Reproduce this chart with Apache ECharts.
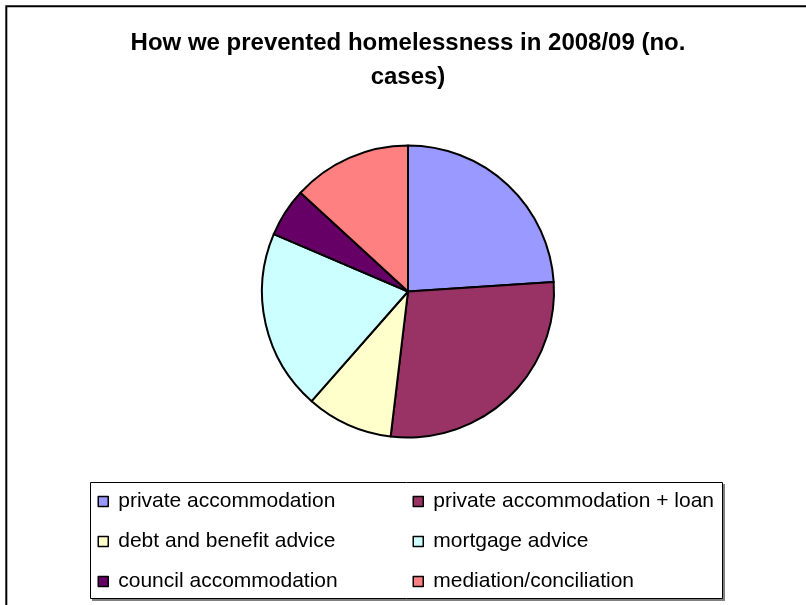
<!DOCTYPE html>
<html>
<head>
<meta charset="utf-8">
<script src="https://cdn.jsdelivr.net/npm/echarts@6/dist/echarts.min.js"></script>
<style>
html,body{margin:0;padding:0;background:#fff;}
#c{width:806px;height:605px;}
</style>
</head>
<body>
<div id="c"></div>
<script>
var categories = ['private accommodation', 'private accommodation + loan', 'debt and benefit advice', 'mortgage advice', 'council accommodation', 'mediation/conciliation'];
var values = [120, 140, 48, 100, 27, 66];
var colors = ['#9999FF', '#993366', '#FFFFCC', '#CCFFFF', '#660066', '#FF8080'];
var titleText = 'How we prevented homelessness in 2008/09 (no.\ncases)';

var chart = echarts.init(document.getElementById('c'), null, {renderer: 'canvas'});
var data = categories.map(function (c, i) {
  return {name: c, value: values[i], itemStyle: {color: colors[i]}};
});
var legendCommon = {
  orient: 'vertical',
  icon: 'rect',
  itemWidth: 10,
  itemHeight: 10,
  itemGap: 19,
  padding: 0,
  selectedMode: false,
  itemStyle: {borderColor: '#000', borderWidth: 1.5},
  textStyle: {fontFamily: 'Arial, "Liberation Sans", sans-serif', fontSize: 21, color: '#000', lineHeight: 20, padding: [0, 0, 0, 5]}
};
chart.setOption({
  animation: false,
  backgroundColor: '#fff',
  title: {
    text: titleText,
    left: 408,
    textAlign: 'center',
    top: 26,
    padding: 0,
    textStyle: {fontFamily: 'Arial, "Liberation Sans", sans-serif', fontWeight: 'bold', fontSize: 24, color: '#000', lineHeight: 34}
  },
  graphic: [
    {type: 'rect', shape: {x: 6.3, y: 6.3, width: 1000, height: 1000}, style: {fill: 'none', stroke: '#000', lineWidth: 2}, z: 0},
    {type: 'rect', shape: {x: 92, y: 484, width: 633, height: 117}, style: {fill: '#808080'}, z: 0},
    {type: 'rect', shape: {x: 90.5, y: 482.5, width: 632, height: 116}, style: {fill: '#fff', stroke: '#000', lineWidth: 1}, z: 1}
  ],
  legend: [
    Object.assign({}, legendCommon, {left: 97.5, top: 491, data: [categories[0], categories[2], categories[4]]}),
    Object.assign({}, legendCommon, {left: 412.5, top: 491, data: [categories[1], categories[3], categories[5]]})
  ],
  series: [{
    type: 'pie',
    center: [408, 291.5],
    radius: [0, 146],
    startAngle: 90,
    clockwise: true,
    label: {show: false},
    labelLine: {show: false},
    emphasis: {disabled: true},
    itemStyle: {borderColor: '#000', borderWidth: 2},
    data: data
  }]
});
</script>
</body>
</html>
